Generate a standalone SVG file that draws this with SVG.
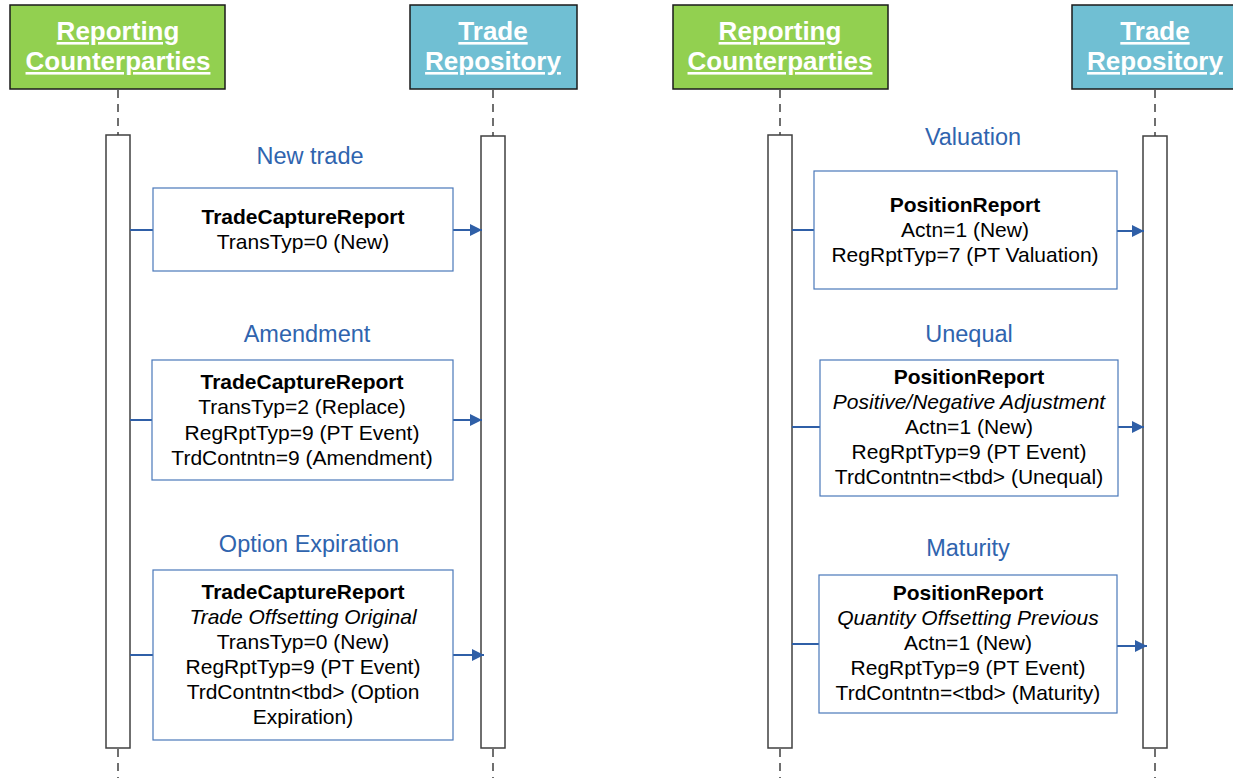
<svg xmlns="http://www.w3.org/2000/svg" width="1233" height="778" viewBox="0 0 1233 778">
  <defs>
    <marker id="arrow" viewBox="0 0 12 12" refX="12" refY="6" markerWidth="12" markerHeight="12" markerUnits="userSpaceOnUse" orient="auto">
      <path d="M0,0 L12,6 L0,12 z" fill="#2F5FA7"/>
    </marker>
    <style>
      .hdr-rc { fill: #92D050; stroke: #1a1a1a; stroke-width: 1.5; }
      .hdr-tr { fill: #70BFD3; stroke: #1a1a1a; stroke-width: 1.5; }
      .hdr-text { font-family: "Liberation Sans", Arial, sans-serif; font-size: 26px; font-weight: bold; fill: #ffffff; text-decoration: underline; text-anchor: middle; }
      .lifeline { stroke: #404040; stroke-width: 1.5; stroke-dasharray: 8 6; fill: none; }
      .bar { fill: #ffffff; stroke: #404040; stroke-width: 1.5; }
      .msg { fill: #ffffff; stroke: #4A78BA; stroke-width: 1.2; }
      .label { font-family: "Liberation Sans", Arial, sans-serif; font-size: 23.5px; fill: #2F64AE; text-anchor: middle; }
      .body { font-family: "Liberation Sans", Arial, sans-serif; font-size: 21px; fill: #000000; text-anchor: middle; }
      .b { font-weight: bold; }
      .i { font-style: italic; }
      .conn { stroke: #2F5FA7; stroke-width: 2; fill: none; }
      .conn-arrow { stroke: #2F5FA7; stroke-width: 2; fill: none; marker-end: url(#arrow); }
    </style>
  </defs>

  <!-- Participant headers -->
  <g id="rc-left">
    <rect class="hdr-rc" x="10" y="5" width="215" height="84"/>
    <text class="hdr-text" x="118" y="40">Reporting</text>
    <text class="hdr-text" x="118" y="70">Counterparties</text>
  </g>
  <g id="tr-left">
    <rect class="hdr-tr" x="410" y="5" width="167" height="84"/>
    <text class="hdr-text" x="493" y="40">Trade</text>
    <text class="hdr-text" x="493" y="70">Repository</text>
  </g>
  <g id="rc-right">
    <rect class="hdr-rc" x="673" y="5" width="215" height="84"/>
    <text class="hdr-text" x="780" y="40">Reporting</text>
    <text class="hdr-text" x="780" y="70">Counterparties</text>
  </g>
  <g id="tr-right">
    <rect class="hdr-tr" x="1072" y="5" width="167" height="84"/>
    <text class="hdr-text" x="1155" y="40">Trade</text>
    <text class="hdr-text" x="1155" y="70">Repository</text>
  </g>

  <!-- Lifelines and activation bars -->
  <g id="lifelines">
    <line class="lifeline" x1="118" y1="90" x2="118" y2="135"/>
    <line class="lifeline" x1="118" y1="749" x2="118" y2="778"/>
    <line class="lifeline" x1="493" y1="90" x2="493" y2="136"/>
    <line class="lifeline" x1="493" y1="749" x2="493" y2="778"/>
    <line class="lifeline" x1="780" y1="90" x2="780" y2="135"/>
    <line class="lifeline" x1="780" y1="749" x2="780" y2="778"/>
    <line class="lifeline" x1="1155" y1="90" x2="1155" y2="136"/>
    <line class="lifeline" x1="1155" y1="749" x2="1155" y2="778"/>
    <rect class="bar" x="106" y="135" width="24" height="613"/>
    <rect class="bar" x="481" y="136" width="24" height="612"/>
    <rect class="bar" x="768" y="135" width="24" height="613"/>
    <rect class="bar" x="1143" y="136" width="24" height="612"/>
  </g>

  <!-- Message connectors -->
  <g id="connectors">
    <line class="conn" x1="130" y1="230" x2="153" y2="230"/>
    <line class="conn-arrow" x1="453" y1="230" x2="482" y2="230"/>
    <line class="conn" x1="130" y1="420" x2="152" y2="420"/>
    <line class="conn-arrow" x1="453" y1="420" x2="482" y2="420"/>
    <line class="conn" x1="130" y1="655" x2="153" y2="655"/>
    <line class="conn-arrow" x1="453" y1="655" x2="484" y2="655"/>
    <line class="conn" x1="792" y1="230" x2="814" y2="230"/>
    <line class="conn-arrow" x1="1117" y1="231" x2="1144" y2="231"/>
    <line class="conn" x1="792" y1="427" x2="820" y2="427"/>
    <line class="conn-arrow" x1="1118" y1="427" x2="1144" y2="427"/>
    <line class="conn" x1="792" y1="644" x2="819" y2="644"/>
    <line class="conn-arrow" x1="1117" y1="646" x2="1147" y2="646"/>
  </g>

  <!-- Left sequence messages -->
  <g id="msg-new-trade">
    <text class="label" x="310" y="164">New trade</text>
    <rect class="msg" x="153" y="188" width="300" height="83"/>
    <text class="body b" x="303" y="224">TradeCaptureReport</text>
    <text class="body" x="303" y="249">TransTyp=0 (New)</text>
  </g>
  <g id="msg-amendment">
    <text class="label" x="307" y="342">Amendment</text>
    <rect class="msg" x="152" y="360" width="301" height="120"/>
    <text class="body b" x="302" y="389">TradeCaptureReport</text>
    <text class="body" x="302" y="414">TransTyp=2 (Replace)</text>
    <text class="body" x="302" y="440">RegRptTyp=9 (PT Event)</text>
    <text class="body" x="302" y="465">TrdContntn=9 (Amendment)</text>
  </g>
  <g id="msg-option-expiration">
    <text class="label" x="309" y="552">Option Expiration</text>
    <rect class="msg" x="153" y="570" width="300" height="170"/>
    <text class="body b" x="303" y="599">TradeCaptureReport</text>
    <text class="body i" x="303" y="624">Trade Offsetting Original</text>
    <text class="body" x="303" y="649">TransTyp=0 (New)</text>
    <text class="body" x="303" y="674">RegRptTyp=9 (PT Event)</text>
    <text class="body" x="303" y="699">TrdContntn&lt;tbd&gt; (Option</text>
    <text class="body" x="303" y="724">Expiration)</text>
  </g>

  <!-- Right sequence messages -->
  <g id="msg-valuation">
    <text class="label" x="973" y="145">Valuation</text>
    <rect class="msg" x="814" y="171" width="303" height="118"/>
    <text class="body b" x="965" y="212">PositionReport</text>
    <text class="body" x="965" y="237">Actn=1 (New)</text>
    <text class="body" x="965" y="262">RegRptTyp=7 (PT Valuation)</text>
  </g>
  <g id="msg-unequal">
    <text class="label" x="969" y="342">Unequal</text>
    <rect class="msg" x="820" y="360" width="298" height="136"/>
    <text class="body b" x="969" y="384">PositionReport</text>
    <text class="body i" x="969" y="409">Positive/Negative Adjustment</text>
    <text class="body" x="969" y="434">Actn=1 (New)</text>
    <text class="body" x="969" y="459">RegRptTyp=9 (PT Event)</text>
    <text class="body" x="969" y="484">TrdContntn=&lt;tbd&gt; (Unequal)</text>
  </g>
  <g id="msg-maturity">
    <text class="label" x="968" y="556">Maturity</text>
    <rect class="msg" x="819" y="575" width="298" height="138"/>
    <text class="body b" x="968" y="600">PositionReport</text>
    <text class="body i" x="968" y="625">Quantity Offsetting Previous</text>
    <text class="body" x="968" y="650">Actn=1 (New)</text>
    <text class="body" x="968" y="675">RegRptTyp=9 (PT Event)</text>
    <text class="body" x="968" y="700">TrdContntn=&lt;tbd&gt; (Maturity)</text>
  </g>
</svg>
